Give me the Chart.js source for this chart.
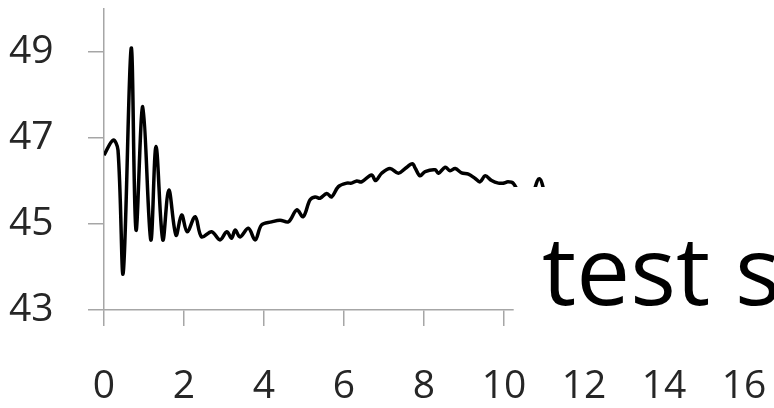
<!DOCTYPE html>
<html>
<head>
<meta charset="utf-8">
<script src="https://cdn.jsdelivr.net/npm/chart.js@4/dist/chart.umd.min.js"></script>
<style>
  html, body { margin: 0; padding: 0; background: #ffffff; }
  #wrap { width: 774px; height: 408px; position: relative; }
</style>
</head>
<body>
<div id="wrap"><canvas id="c" width="774" height="408"></canvas></div>
<script>
// ---- data ----
const xValues = [0, 0.23, 0.35, 0.48, 0.68, 0.8, 0.97, 1.17, 1.3, 1.47, 1.62, 1.8, 1.94, 2.08, 2.28, 2.44,
  2.69, 2.9, 3.07, 3.19, 3.28, 3.4, 3.61, 3.78, 3.94, 4.19, 4.4, 4.61, 4.82, 4.98, 5.15, 5.28, 5.4, 5.57,
  5.69, 5.86, 6.07, 6.19, 6.32, 6.44, 6.69, 6.79, 6.94, 7.15, 7.36, 7.53, 7.71, 7.78, 7.9, 8.03, 8.28, 8.36,
  8.53, 8.65, 8.78, 8.94, 9.11, 9.28, 9.4, 9.53, 9.69, 9.86, 9.98, 10.1, 10.23, 10.4, 10.65, 10.88, 11.05];
const yValues = [46.6, 46.95, 46.72, 43.86, 49.09, 44.86, 47.73, 44.63, 46.8, 44.63, 45.79, 44.74, 45.21, 44.82, 45.17, 44.7,
  44.82, 44.63, 44.82, 44.67, 44.86, 44.7, 44.9, 44.63, 44.98, 45.05, 45.09, 45.05, 45.33, 45.17, 45.56, 45.63, 45.6, 45.71,
  45.63, 45.87, 45.95, 45.95, 46.0, 45.98, 46.14, 46.01, 46.18, 46.29, 46.18, 46.29, 46.4, 46.3, 46.12, 46.22, 46.26, 46.18,
  46.32, 46.24, 46.29, 46.19, 46.16, 46.06, 45.98, 46.12, 46.01, 45.95, 45.95, 45.98, 45.95, 45.7, 45.6, 46.05, 45.6];
const yTickValues = [43, 45, 47, 49];
const overlayText = "test s";

const points = xValues.map((x, i) => ({ x: x, y: yValues[i] }));

const overlayBox = {
  id: 'overlayBox',
  afterDraw(chart) {
    const ctx = chart.ctx;
    const xs = chart.scales.x;
    ctx.save();
    const left = xs.getPixelForValue(10.23) + 0.5;
    ctx.fillStyle = '#ffffff';
    ctx.fillRect(left, 187, 774 - left, 150);
    ctx.fillStyle = '#000000';
    ctx.font = '96px "Open Sans"';
    ctx.textBaseline = 'alphabetic';
    ctx.textAlign = 'left';
    ctx.fillText(overlayText, 542, 305);
    ctx.restore();
  }
};

new Chart(document.getElementById('c'), {
  type: 'line',
  data: {
    datasets: [{
      data: points,
      borderColor: '#000000',
      borderWidth: 3.5,
      pointRadius: 0,
      tension: 0.35,
      fill: false
    }]
  },
  options: {
    responsive: false,
    animation: false,
    layout: { padding: { top: 9, right: 30, left: 9, bottom: 0 } },
    plugins: { legend: { display: false }, tooltip: { enabled: false } },
    scales: {
      x: {
        type: 'linear',
        min: 0, max: 16,
        afterFit(s) { s.height = 98; },
        ticks: {
          stepSize: 2,
          padding: 0,
          color: '#262626',
          font: { family: '"Open Sans"', size: 39, lineHeight: '122px' }
        },
        grid: { drawOnChartArea: false, drawTicks: true, tickLength: 16, color: '#a6a6a6', lineWidth: 1.5 },
        border: { color: '#a6a6a6', width: 1.5 }
      },
      y: {
        min: 43, max: 50,
        afterFit(s) { s.width = 95; },
        afterBuildTicks(s) { s.ticks = yTickValues.map(v => ({ value: v })); },
        ticks: {
          padding: 0,
          crossAlign: 'far',
          color: '#262626',
          font: { family: '"Open Sans"', size: 39, lineHeight: 0.4 }
        },
        grid: { drawOnChartArea: false, drawTicks: true, tickLength: 16, color: '#a6a6a6', lineWidth: 1.5 },
        border: { color: '#a6a6a6', width: 1.5 }
      }
    }
  },
  plugins: [overlayBox]
});
</script>
</body>
</html>
